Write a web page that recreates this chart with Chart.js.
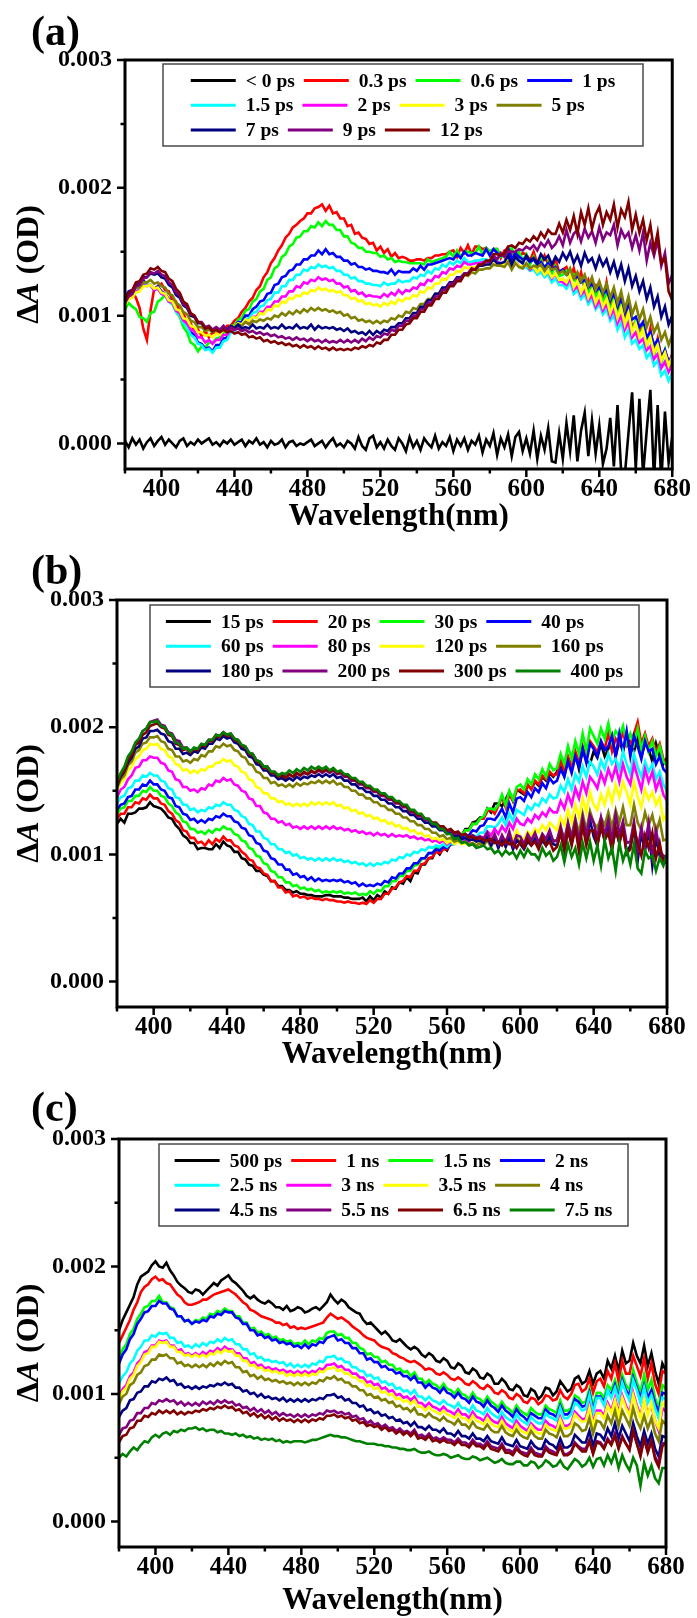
<!DOCTYPE html>
<html>
<head>
<meta charset="utf-8">
<script src="https://cdn.jsdelivr.net/npm/chart.js@4.4.1/dist/chart.umd.min.js"></script>
<style>
  html, body { margin: 0; padding: 0; background: #ffffff; }
  #figure { position: relative; width: 697px; height: 1618px; overflow: hidden; background: #ffffff; }
  #figure canvas { position: absolute; left: 0; }
</style>
</head>
<body>
<div id="figure">
  <canvas id="panelA" width="697" height="540" style="top:0px"></canvas>
  <canvas id="panelB" width="697" height="540" style="top:540px"></canvas>
  <canvas id="panelC" width="697" height="538" style="top:1080px"></canvas>
</div>
<script>
// ---- data -------------------------------------------------------------
// Probe wavelength grid (nm), 2 nm steps
const WAVELENGTH_NM = [
  380,382,384,386,388,390,392,394,396,398,
  400,402,404,406,408,410,412,414,416,418,
  420,422,424,426,428,430,432,434,436,438,
  440,442,444,446,448,450,452,454,456,458,
  460,462,464,466,468,470,472,474,476,478,
  480,482,484,486,488,490,492,494,496,498,
  500,502,504,506,508,510,512,514,516,518,
  520,522,524,526,528,530,532,534,536,538,
  540,542,544,546,548,550,552,554,556,558,
  560,562,564,566,568,570,572,574,576,578,
  580,582,584,586,588,590,592,594,596,598,
  600,602,604,606,608,610,612,614,616,618,
  620,622,624,626,628,630,632,634,636,638,
  640,642,644,646,648,650,652,654,656,658,
  660,662,664,666,668,670,672,674,676,678,
  680
];

// Transient absorption values are stored in units of 1e-5 OD
const DA_UNIT = 1e-5;

// Axis ticks
const X_TICKS = [380,400,420,440,460,480,500,520,540,560,580,600,620,640,660,680];
const Y_TICKS = [0, 0.0005, 0.001, 0.0015, 0.002, 0.0025, 0.003];

// Trace colours (same order in every panel)
const TRACE_COLORS = ['#000000','#ff0000','#00ff00','#0000ff','#00ffff','#ff00ff',
                      '#ffff00','#808000','#000080','#800080','#800000','#008000'];

// ---- panel (a): early delays ----
const LABELS_A = ['< 0 ps','0.3 ps','0.6 ps','1 ps','1.5 ps','2 ps','3 ps','5 ps','7 ps','9 ps','12 ps'];

const A_NEG = [
  2,-3,4,-1,3,-4,1,4,-2,2,
  5,-1,3,0,-3,2,4,-2,1,-1,
  3,0,2,4,-1,1,-2,2,0,3,
  -1,1,3,-2,2,0,4,-1,1,-3,
  2,-1,0,3,-3,1,2,-2,0,-1,
  1,3,-2,0,2,-3,1,4,-2,0,
  -3,2,0,-4,5,-2,-5,4,6,-3,
  1,-4,3,-2,-5,4,0,-6,5,-3,
  2,-5,4,0,-3,6,-4,1,-2,5,
  -6,3,-2,4,-5,2,-1,6,-7,3,
  -2,8,-9,4,-3,7,-10,5,9,-6,
  4,-8,10,-12,6,-5,12,-14,-15,8,
  -12,16,-6,22,-14,10,24,-10,18,-8,
  14,-16,-4,20,-18,30,-22,-25,8,40,
  -20,35,-25,10,42,-28,30,-30,25,-15,
  5
];
const A_0P3 = [
  112,116,119,114,106,90,81,104,121,123,
  125,120,119,112,111,103,102,94,94,88,
  89,84,88,83,87,86,89,89,92,92,
  96,98,103,106,111,114,120,123,130,134,
  141,145,151,155,161,164,169,171,174,176,
  180,180,184,185,187,182,186,180,181,176,
  176,170,171,164,165,161,160,156,157,151,
  154,149,152,146,149,145,146,145,143,143,
  144,144,143,145,145,147,147,148,148,150,
  151,146,153,149,155,148,154,154,152,153,
  150,152,152,145,151,152,148,150,146,149,
  148,143,150,141,139,147,140,137,144,134,
  136,138,130,137,126,134,121,128,120,124,
  123,110,126,109,116,104,114,94,108,90,
  96,85,94,76,90,70,82,67,73,62,
  70
];
const A_0P6 = [
  105,110,107,105,99,98,95,102,103,111,
  113,116,111,109,103,99,91,87,79,77,
  72,76,75,79,79,82,83,87,87,92,
  92,97,98,104,105,111,113,119,121,128,
  130,137,139,146,148,154,156,161,162,166,
  166,170,169,173,170,174,171,171,167,167,
  162,162,157,156,153,153,150,150,149,149,
  146,147,144,145,142,143,142,142,141,141,
  141,141,140,144,142,143,144,145,146,150,
  146,151,146,150,150,149,149,154,148,153,
  150,152,152,146,147,149,153,145,150,143,
  148,140,146,138,144,135,142,133,139,131,
  132,135,129,132,122,129,125,117,127,114,
  122,109,119,103,114,99,109,93,103,87,
  97,83,91,77,85,69,79,63,73,59,
  66
];
const A_1 = [
  114,119,120,123,123,128,124,124,120,123,
  119,117,113,111,105,103,96,93,87,85,
  79,78,74,75,72,77,77,82,83,89,
  90,95,95,100,100,105,107,111,112,117,
  118,124,125,130,131,135,136,140,140,144,
  144,147,147,151,148,152,148,149,146,146,
  143,143,140,141,138,138,136,137,135,135,
  134,134,133,136,132,135,134,134,134,137,
  135,139,136,140,140,141,142,143,144,145,
  144,148,145,150,147,147,149,148,147,152,
  147,152,149,147,148,153,144,149,146,144,
  145,142,144,140,142,138,141,136,138,134,
  136,132,133,129,131,126,128,122,125,119,
  122,117,120,112,117,107,113,102,108,97,
  99,91,95,83,87,77,81,67,73,64,
  68
];
const A_1P5 = [
  112,117,117,122,121,125,124,124,121,121,
  117,116,111,109,103,100,94,91,85,83,
  78,77,73,74,71,75,75,80,81,87,
  88,93,93,97,98,102,103,107,108,112,
  113,118,118,123,123,128,128,132,132,136,
  135,138,137,140,138,139,137,138,135,135,
  132,132,129,130,127,127,125,125,124,124,
  123,126,124,125,125,128,126,127,127,130,
  129,132,131,135,133,137,136,140,138,142,
  140,143,141,145,142,142,143,143,144,144,
  142,146,143,141,141,146,138,143,139,137,
  138,135,136,132,134,130,132,126,129,124,
  124,121,126,117,120,113,117,109,113,105,
  109,101,105,96,100,89,95,83,89,78,
  81,74,77,67,71,61,65,53,57,49,
  55
];
const A_2 = [
  110,114,115,119,120,124,123,124,120,121,
  117,116,111,110,104,102,96,94,89,88,
  83,83,79,81,78,81,81,85,85,89,
  89,92,92,96,95,99,99,103,103,107,
  107,111,111,115,115,119,119,123,122,126,
  125,128,127,130,128,129,127,128,125,125,
  122,123,119,120,117,118,115,116,115,115,
  114,117,115,118,116,120,117,120,119,122,
  121,125,124,128,127,131,130,134,133,137,
  136,139,138,142,140,140,141,141,142,142,
  141,145,142,141,140,145,137,142,139,138,
  140,136,138,134,137,132,135,129,133,127,
  126,124,129,120,123,116,120,112,116,107,
  112,104,109,99,105,94,100,89,95,83,
  87,79,82,73,76,66,70,59,64,56,
  62
];
const A_3 = [
  108,113,114,118,119,123,123,124,121,122,
  118,117,112,111,105,104,98,97,92,91,
  87,87,84,85,83,86,85,89,88,92,
  91,94,93,97,96,99,98,102,101,105,
  104,108,107,111,110,114,113,116,115,118,
  117,120,119,122,120,121,119,120,118,119,
  116,116,113,114,111,112,109,110,108,109,
  107,110,108,111,109,113,111,114,113,116,
  115,119,118,122,121,125,125,129,128,132,
  132,135,134,138,137,138,138,139,139,140,
  140,143,141,140,140,144,138,142,139,138,
  140,137,138,134,137,132,135,130,133,128,
  129,126,132,122,127,118,124,114,120,110,
  117,107,113,102,110,98,106,93,102,87,
  94,83,89,77,83,71,77,65,71,61,
  68
];
const A_5 = [
  110,115,117,122,122,126,126,128,125,126,
  123,122,117,116,110,108,103,101,96,95,
  91,91,88,89,87,89,88,90,89,92,
  91,93,92,95,93,96,95,97,96,98,
  97,100,99,102,100,103,101,104,102,105,
  103,106,104,106,104,105,103,104,102,103,
  100,101,98,99,96,97,95,96,94,96,
  94,96,95,98,97,100,99,103,102,106,
  105,109,109,113,113,117,117,121,121,125,
  125,129,128,132,131,134,133,136,136,137,
  137,140,139,139,138,142,136,141,138,137,
  141,137,139,138,140,135,139,136,137,133,
  135,132,137,129,134,127,132,123,130,120,
  127,118,125,114,122,110,119,105,115,101,
  109,97,105,91,99,87,93,81,87,77,
  85
];
const A_7 = [
  112,117,119,124,125,130,130,133,132,133,
  130,129,124,122,116,114,108,106,100,99,
  94,94,90,91,88,90,88,91,89,92,
  90,93,90,91,90,93,90,91,90,93,
  90,91,90,93,90,91,90,93,90,91,
  90,93,89,92,90,91,90,91,89,90,
  88,90,87,88,86,87,85,88,85,88,
  86,89,88,91,91,94,94,98,98,102,
  102,107,107,112,112,117,117,122,122,126,
  126,130,130,133,133,136,136,139,139,140,
  140,144,141,141,142,147,140,146,143,141,
  147,143,145,141,148,144,147,140,146,142,
  149,144,150,141,147,139,149,142,145,137,
  146,139,144,134,142,131,140,127,137,123,
  131,119,127,113,122,107,115,99,107,93,
  100
];
const A_9 = [
  110,115,117,123,124,129,130,134,133,135,
  132,131,126,124,118,116,109,107,101,100,
  95,95,91,92,89,91,89,92,88,91,
  89,90,88,89,87,88,86,87,85,86,
  84,85,83,84,82,83,81,83,81,82,
  80,82,80,81,79,81,79,80,79,81,
  79,81,79,81,79,82,80,83,81,84,
  83,86,85,89,88,92,92,96,96,100,
  100,105,105,110,110,115,115,120,120,125,
  125,129,129,133,133,137,136,140,140,143,
  142,147,144,149,146,151,150,150,152,151,
  154,152,155,151,157,154,159,153,156,162,
  155,167,157,164,167,158,168,161,166,157,
  169,159,165,163,171,155,167,161,165,153,
  163,151,165,143,157,147,159,139,149,125,
  132
];
const A_12 = [
  112,118,120,126,127,132,133,137,136,138,
  135,134,129,127,121,118,111,109,102,100,
  95,94,90,91,88,89,87,89,87,88,
  86,87,85,86,83,84,82,83,80,81,
  79,80,78,79,77,78,76,77,75,77,
  75,76,74,76,74,75,73,75,73,74,
  73,74,73,75,74,76,75,77,76,79,
  78,81,81,85,85,89,89,93,94,98,
  98,103,103,108,108,113,113,118,118,123,
  123,127,127,132,132,136,136,140,140,143,
  143,148,148,147,149,154,155,153,157,156,
  160,158,162,159,165,161,167,164,164,172,
  165,175,167,178,164,181,171,184,168,179,
  185,171,181,175,187,169,183,177,189,167,
  179,165,175,159,171,151,165,141,145,119,
  112
];
const SERIES_A = [A_NEG, A_0P3, A_0P6, A_1, A_1P5, A_2, A_3, A_5, A_7, A_9, A_12];

// ---- panel (b): intermediate delays ----
const LABELS_B = ['15 ps','20 ps','30 ps','40 ps','60 ps','80 ps','120 ps','160 ps','180 ps','200 ps','300 ps','400 ps'];

const B_15 = [
  124,128,125,132,132,133,136,136,137,141,
  138,137,136,133,129,128,123,120,115,113,
  109,109,104,105,105,104,104,108,105,110,
  107,106,102,102,97,96,92,91,87,87,
  84,83,79,79,75,75,72,72,70,71,
  69,69,68,68,67,67,67,68,68,67,
  67,67,66,66,65,65,65,66,63,67,
  64,68,66,71,69,74,73,78,77,82,
  79,86,85,92,92,97,97,103,100,105,
  103,109,109,114,115,120,120,125,126,129,
  129,136,133,140,140,138,143,149,142,151,
  149,147,154,152,157,154,161,158,164,161,
  165,173,162,175,169,179,167,182,174,171,
  181,176,187,177,183,193,177,189,181,195,
  185,181,191,177,187,183,173,187,177,171,
  176
];
const B_20 = [
  128,132,132,137,137,141,140,144,143,147,
  144,144,140,139,134,132,127,125,119,118,
  113,113,109,110,107,111,108,112,110,114,
  111,111,107,106,102,100,96,95,90,89,
  85,84,79,79,74,74,70,71,67,68,
  66,67,65,66,65,65,64,65,64,64,
  63,63,62,63,62,62,61,62,61,64,
  62,65,65,69,69,73,74,78,79,83,
  82,87,87,92,93,97,98,102,101,104,
  104,108,109,114,114,119,119,124,124,128,
  128,134,135,132,138,145,137,147,142,150,
  151,148,155,151,158,155,162,159,165,162,
  163,173,166,177,169,181,172,185,175,189,
  185,180,189,183,195,181,191,187,196,185,
  187,195,204,187,195,185,191,181,187,175,
  170
];
const B_30 = [
  132,136,137,142,142,146,146,150,149,153,
  150,150,146,145,140,138,133,131,126,125,
  120,120,117,118,116,119,117,120,119,122,
  120,120,116,115,111,110,105,104,99,98,
  93,92,87,86,82,82,78,78,75,76,
  73,74,72,73,71,72,70,71,70,71,
  70,71,69,70,69,70,68,69,68,71,
  69,72,71,75,75,79,79,83,83,87,
  87,91,92,96,97,101,101,105,104,107,
  106,110,110,115,115,119,119,124,124,128,
  130,136,136,135,139,147,139,150,143,153,
  155,151,159,155,163,159,167,161,171,166,
  168,179,171,185,175,189,179,195,181,199,
  193,187,199,191,203,189,197,193,201,187,
  195,187,199,183,193,181,189,177,185,173,
  170
];
const B_40 = [
  135,139,140,145,146,151,151,155,154,158,
  155,155,151,150,145,144,138,137,132,131,
  127,128,125,127,125,128,127,130,129,132,
  130,130,126,125,121,120,115,114,109,108,
  103,102,97,96,92,92,88,88,84,85,
  82,83,80,82,79,81,79,80,79,80,
  79,80,78,79,77,78,75,77,75,76,
  75,77,76,79,78,82,81,85,85,89,
  89,93,93,97,97,101,101,104,103,106,
  105,108,108,112,112,115,115,119,118,122,
  123,128,128,127,131,136,129,140,133,144,
  145,142,149,145,152,149,156,152,160,156,
  158,167,161,173,164,177,169,183,172,187,
  183,177,189,182,185,193,177,195,181,197,
  177,193,185,175,189,181,183,171,177,167,
  164
];
const B_60 = [
  140,145,146,152,153,158,158,162,161,164,
  162,162,158,157,152,151,145,144,139,139,
  135,136,133,135,134,137,136,139,138,141,
  139,139,135,134,130,129,124,123,118,118,
  113,112,108,108,104,104,101,102,99,100,
  97,98,96,97,95,97,95,97,95,97,
  95,96,94,95,93,94,92,93,91,93,
  91,93,92,94,93,96,95,98,97,100,
  99,102,101,104,103,106,105,107,106,108,
  106,109,108,111,110,113,112,115,114,117,
  117,122,122,121,124,129,123,132,126,135,
  133,131,138,135,140,138,144,141,147,144,
  145,154,149,159,151,163,157,169,161,173,
  169,163,174,167,179,171,175,167,181,171,
  163,179,169,161,173,165,171,159,165,155,
  150
];
const B_80 = [
  145,151,153,159,162,168,169,174,174,177,
  176,176,172,171,166,165,159,158,153,153,
  150,151,149,152,151,155,154,158,157,160,
  158,159,155,154,150,149,144,143,138,138,
  133,132,128,128,125,126,123,124,121,122,
  120,122,120,122,120,122,120,122,120,122,
  120,121,119,120,118,119,117,118,116,117,
  115,117,115,116,114,116,114,115,114,115,
  113,114,112,113,111,112,110,111,109,111,
  108,110,109,111,109,112,110,113,111,114,
  113,118,115,120,116,122,118,125,120,128,
  124,123,128,125,131,128,133,130,136,133,
  133,142,136,147,139,152,144,157,148,161,
  157,152,164,156,167,159,169,157,171,161,
  155,171,161,151,167,157,165,151,159,147,
  142
];
const B_120 = [
  150,156,159,166,169,175,177,182,183,187,
  186,187,183,182,177,176,171,170,166,167,
  164,166,164,167,166,169,169,172,172,175,
  173,174,170,169,165,164,159,158,153,152,
  148,148,144,144,141,142,139,140,138,140,
  138,140,138,141,139,141,139,141,139,141,
  138,139,136,137,134,135,132,133,130,131,
  128,129,126,127,124,125,122,123,120,121,
  118,119,116,117,114,115,112,113,111,112,
  109,111,108,110,108,109,107,109,107,109,
  107,112,107,113,108,115,109,117,111,119,
  113,112,118,115,120,117,123,119,125,122,
  119,129,123,135,125,139,129,144,133,149,
  139,135,147,139,151,141,155,145,157,149,
  139,157,145,137,151,143,149,139,145,127,
  132
];
const B_160 = [
  152,159,162,170,173,180,182,187,188,192,
  192,193,189,188,183,182,177,177,173,174,
  172,175,174,178,177,181,181,185,184,187,
  185,186,182,181,177,176,171,170,165,164,
  160,160,156,157,154,155,153,155,153,156,
  154,156,155,157,156,158,156,158,156,158,
  155,156,153,153,150,150,147,147,144,144,
  141,141,138,138,135,135,132,132,129,129,
  126,126,123,123,120,120,117,117,114,115,
  112,113,110,111,109,110,108,109,107,109,
  107,111,106,112,107,113,106,112,105,113,
  109,107,112,109,113,110,114,109,115,111,
  111,120,113,124,115,128,117,132,119,134,
  125,121,129,123,133,121,135,125,137,123,
  123,139,125,119,133,123,131,117,127,111,
  112
];
const B_180 = [
  154,161,165,172,176,183,185,191,192,197,
  197,198,195,194,189,188,183,183,179,180,
  178,181,180,184,183,187,187,191,190,193,
  191,192,188,187,183,182,177,176,171,170,
  166,166,162,162,159,160,158,160,158,161,
  159,161,160,162,161,163,161,163,161,163,
  160,161,158,158,155,155,152,152,149,149,
  146,146,143,143,140,140,137,137,134,134,
  131,131,128,128,125,125,122,122,119,119,
  116,117,114,115,112,113,111,112,110,111,
  109,114,107,113,105,112,106,114,104,111,
  108,104,110,107,112,105,111,107,114,108,
  107,117,104,119,109,122,107,124,110,127,
  114,107,122,111,125,105,119,109,123,101,
  107,121,95,117,103,119,91,113,99,97,
  96
];
const B_200 = [
  156,163,167,175,179,187,190,197,199,204,
  205,206,202,201,196,195,190,189,184,184,
  181,183,182,186,186,190,190,194,193,196,
  194,195,191,190,186,185,180,179,174,173,
  169,169,165,165,162,163,161,163,161,164,
  162,164,163,165,164,166,164,166,164,166,
  163,164,161,161,158,158,155,155,152,152,
  149,149,146,146,143,143,140,140,137,137,
  133,133,130,130,127,127,124,124,121,121,
  118,119,116,117,115,116,114,115,113,114,
  112,117,110,116,108,115,109,118,107,115,
  114,108,116,111,117,109,116,112,119,110,
  111,122,109,125,112,127,110,129,114,131,
  125,113,129,115,127,111,131,116,126,109,
  110,126,103,121,107,125,99,119,103,99,
  98
];
const B_300 = [
  155,162,166,174,178,186,188,194,196,201,
  202,203,200,199,194,193,187,186,182,183,
  180,183,182,186,185,189,189,193,192,195,
  193,194,190,189,185,184,179,178,173,172,
  168,168,164,164,161,162,160,163,161,164,
  162,165,163,166,164,167,165,167,165,167,
  164,165,162,162,159,159,156,156,153,153,
  150,150,147,147,144,144,141,141,138,138,
  134,134,131,131,128,128,125,125,122,122,
  119,120,117,118,115,116,113,114,112,113,
  111,111,112,109,110,107,111,108,109,105,
  110,105,112,107,110,104,114,107,110,103,
  106,117,103,119,107,121,102,123,107,119,
  119,107,123,111,117,103,121,109,119,101,
  104,121,109,99,115,105,117,97,109,93,
  94
];
const B_400 = [
  157,164,169,177,181,188,191,197,199,204,
  204,205,201,200,195,194,188,187,183,184,
  181,184,183,187,186,190,190,194,193,196,
  194,195,191,190,186,185,180,179,174,173,
  169,169,165,165,162,164,163,166,164,167,
  165,168,166,169,167,169,167,169,166,168,
  165,166,163,163,160,160,157,157,154,154,
  151,151,148,148,145,145,142,142,139,139,
  135,135,132,132,128,128,124,124,120,120,
  116,116,112,113,109,110,107,108,105,106,
  107,104,105,101,103,99,103,100,102,97,
  103,98,104,100,100,96,105,99,102,95,
  98,107,94,108,98,105,92,109,97,110,
  95,107,91,111,97,105,87,109,95,104,
  92,108,89,85,103,97,99,87,97,91,
  100
];
const SERIES_B = [B_15, B_20, B_30, B_40, B_60, B_80, B_120, B_160, B_180, B_200, B_300, B_400];

// ---- panel (c): nanosecond delays ----
const LABELS_C = ['500 ps','1 ns','1.5 ns','2 ns','2.5 ns','3 ns','3.5 ns','4 ns','4.5 ns','5.5 ns','6.5 ns','7.5 ns'];

const C_500P = [
  150,158,164,170,176,186,192,194,196,201,
  204,200,199,203,197,193,188,185,183,180,
  179,182,181,178,181,184,187,185,189,191,
  193,189,187,184,181,177,175,177,174,172,
  171,173,171,168,168,166,169,165,166,168,
  167,164,165,167,168,166,169,172,178,174,
  171,174,172,168,166,164,163,158,155,156,
  153,150,147,149,146,142,141,143,140,137,
  135,137,135,131,129,132,130,126,125,128,
  126,121,120,124,122,117,116,120,118,113,
  112,116,114,108,108,112,109,104,103,107,
  105,99,98,104,102,96,99,105,104,99,
  102,110,106,102,104,112,114,108,110,118,
  108,116,118,112,126,120,130,118,134,124,
  126,140,130,124,138,122,132,118,108,124,
  118
];
const C_1N = [
  140,146,152,158,166,172,180,184,186,190,
  192,189,190,187,186,182,178,176,172,170,
  170,171,172,174,174,176,178,179,180,181,
  182,180,178,175,172,170,166,165,163,161,
  160,159,158,156,156,154,155,152,153,151,
  152,151,152,153,154,155,156,160,163,161,
  159,160,158,156,153,151,149,146,144,143,
  142,139,137,136,135,132,131,129,128,126,
  125,126,124,122,119,120,119,116,115,117,
  115,112,111,113,111,108,107,110,108,105,
  104,107,105,101,100,103,101,97,96,100,
  98,94,93,97,96,92,94,99,98,95,
  96,103,98,96,100,107,108,102,104,112,
  101,110,112,106,118,112,124,110,126,116,
  116,130,122,114,128,112,124,108,100,118,
  116
];
const C_1P5N = [
  128,135,139,147,151,159,163,168,169,173,
  173,177,172,172,168,167,161,161,157,158,
  155,158,157,160,159,163,162,165,164,167,
  165,165,161,161,156,156,151,152,148,149,
  146,147,144,145,142,143,141,142,139,140,
  139,142,139,142,141,144,143,148,149,149,
  146,147,144,144,140,140,136,135,131,132,
  129,129,125,126,123,123,119,120,117,118,
  114,117,112,112,108,111,108,107,104,108,
  104,103,100,104,100,99,96,101,97,96,
  93,98,94,92,89,94,90,88,85,91,
  87,85,83,89,86,84,84,91,88,87,
  85,95,87,87,89,99,97,93,94,104,
  90,101,101,97,107,103,111,101,115,107,
  103,119,109,101,115,103,111,97,89,107,
  104
];
const C_2N = [
  124,131,135,143,147,155,159,164,165,169,
  169,173,171,171,167,166,161,161,157,158,
  155,157,156,158,157,161,160,163,162,165,
  164,164,160,159,155,155,150,150,146,147,
  144,145,142,143,140,141,139,140,137,138,
  136,139,136,139,138,141,140,144,145,146,
  142,143,140,140,136,136,132,132,127,128,
  125,125,121,122,119,119,116,117,114,114,
  111,114,109,109,105,108,105,104,101,105,
  101,100,97,101,97,96,93,98,94,93,
  90,95,91,89,86,91,87,85,82,88,
  84,82,79,85,83,81,81,88,85,84,
  82,91,84,84,87,96,94,90,91,101,
  87,98,98,94,103,99,107,97,111,103,
  99,113,105,97,107,97,103,93,85,101,
  100
];
const C_2P5N = [
  108,114,117,124,127,134,137,142,142,146,
  145,148,147,148,144,144,140,141,137,138,
  136,139,137,140,138,141,140,143,141,144,
  142,143,139,139,135,135,131,132,128,129,
  126,127,125,126,124,125,122,124,121,123,
  121,123,121,124,123,126,125,129,129,130,
  127,128,125,125,121,121,118,118,114,115,
  112,113,109,110,107,108,104,105,102,103,
  100,103,98,98,95,98,95,94,92,95,
  92,91,89,93,89,89,86,91,87,86,
  84,89,85,83,81,86,82,80,78,84,
  80,78,76,82,79,77,77,85,82,81,
  79,89,81,81,84,93,91,87,88,99,
  85,97,97,91,103,97,105,95,109,101,
  95,111,103,93,105,93,99,89,81,97,
  96
];
const C_3N = [
  98,104,107,114,117,124,127,133,134,138,
  138,142,141,142,138,138,134,135,131,132,
  130,132,130,133,131,134,133,136,134,137,
  135,135,132,132,128,128,124,125,122,123,
  120,121,119,120,118,119,117,118,116,118,
  116,118,116,118,117,120,119,123,123,124,
  121,122,119,119,116,116,113,113,109,110,
  107,108,104,105,102,103,99,100,97,98,
  95,98,93,93,90,93,90,89,87,90,
  87,86,84,88,84,84,81,86,82,81,
  79,84,80,78,77,82,77,75,73,79,
  75,73,71,77,74,72,72,79,76,75,
  73,82,75,75,77,86,83,80,81,91,
  77,87,87,83,93,87,97,85,99,91,
  85,101,91,83,95,85,91,79,71,89,
  86
];
const C_3P5N = [
  96,102,105,112,115,122,125,131,132,137,
  137,141,140,141,137,137,133,133,130,131,
  129,131,129,131,129,132,131,134,132,135,
  133,134,130,130,126,126,122,123,120,121,
  118,119,117,118,116,117,114,116,114,116,
  114,116,114,116,115,118,117,120,120,121,
  118,119,116,116,113,113,110,110,106,107,
  104,105,101,102,99,100,96,97,94,95,
  92,95,90,90,87,90,87,86,84,87,
  84,83,81,85,81,81,78,83,79,78,
  76,81,77,75,74,79,74,72,70,76,
  72,70,69,75,71,69,69,76,73,72,
  71,80,73,73,75,84,81,78,79,89,
  75,85,85,81,91,85,95,83,97,89,
  83,99,89,81,95,83,93,79,73,93,
  90
];
const C_4N = [
  92,98,100,107,109,115,117,122,123,127,
  127,131,130,131,128,128,124,125,122,123,
  121,123,121,123,121,124,122,125,123,126,
  124,125,121,121,117,118,114,115,112,114,
  111,112,110,111,109,110,108,109,107,109,
  107,109,107,109,108,111,110,113,112,114,
  111,112,109,109,106,106,103,103,99,100,
  97,98,95,96,93,94,90,91,88,89,
  86,89,84,84,82,85,82,81,79,82,
  79,78,76,80,76,76,73,78,74,73,
  72,76,72,70,70,75,70,68,67,72,
  68,66,65,71,67,65,65,72,69,68,
  66,74,67,67,69,77,75,71,72,81,
  69,79,78,73,83,77,87,75,87,81,
  75,89,79,73,83,73,81,69,63,79,
  76
];
const C_4P5N = [
  82,87,89,95,96,101,102,106,106,110,
  109,112,111,113,110,111,107,108,105,106,
  104,106,104,106,105,107,106,108,107,109,
  107,108,105,105,102,103,100,101,98,100,
  97,98,96,97,95,97,94,96,94,96,
  94,96,94,96,95,97,96,99,99,100,
  97,98,95,96,93,93,90,91,87,88,
  85,86,83,84,81,82,79,80,77,78,
  75,78,74,74,72,75,72,72,70,73,
  69,69,67,71,67,67,65,69,65,65,
  63,67,63,62,61,66,61,60,59,64,
  59,58,57,63,59,57,57,64,61,60,
  57,65,58,58,60,68,65,62,62,71,
  59,69,68,64,73,67,77,65,75,69,
  63,77,67,59,71,61,69,57,51,67,
  66
];
const C_5P5N = [
  68,73,74,79,80,85,85,89,89,93,
  92,95,94,96,94,95,92,94,91,93,
  91,93,91,94,92,94,92,95,93,95,
  93,94,91,92,89,90,87,89,86,88,
  85,87,84,86,83,85,83,84,82,84,
  82,84,82,84,83,85,84,87,86,87,
  85,86,84,85,82,83,80,81,77,79,
  76,77,74,76,73,74,71,73,70,71,
  69,72,67,68,66,69,65,66,64,66,
  64,64,62,65,62,62,60,64,61,61,
  59,63,59,58,57,61,56,56,54,59,
  55,54,53,58,54,53,52,59,56,55,
  53,60,53,53,55,62,59,57,57,64,
  54,63,62,58,65,61,69,58,67,61,
  57,71,61,53,65,55,63,51,45,61,
  62
];
const C_6P5N = [
  62,67,68,73,74,79,79,83,82,85,
  84,87,85,87,85,87,84,86,84,86,
  85,87,86,88,87,89,88,90,89,91,
  89,90,87,88,85,86,83,85,82,84,
  81,83,80,82,79,81,79,80,78,80,
  78,80,78,80,79,81,80,83,83,84,
  82,83,81,82,79,80,77,78,75,76,
  74,75,72,74,71,72,69,71,68,70,
  67,70,65,66,64,67,63,64,62,64,
  62,62,60,63,60,60,58,62,59,59,
  57,61,57,56,55,59,54,54,52,57,
  54,52,51,56,52,51,51,57,54,53,
  52,59,52,52,54,61,58,55,55,63,
  53,62,61,57,64,60,67,57,66,61,
  56,71,61,51,65,54,63,49,43,59,
  62
];
const C_7P5N = [
  50,53,51,55,58,56,60,63,62,66,
  68,66,69,70,68,71,70,72,71,73,
  73,74,72,73,71,72,72,70,71,69,
  69,68,69,67,68,66,67,65,66,64,
  65,64,65,63,64,62,63,62,63,63,
  63,62,63,64,64,65,66,67,68,67,
  67,66,66,65,64,63,63,62,61,61,
  61,60,60,59,59,58,58,57,57,56,
  56,57,55,54,54,55,53,52,52,53,
  52,50,51,52,50,49,49,51,50,48,
  49,50,48,46,47,49,46,45,45,47,
  47,44,44,47,46,42,44,48,46,43,
  44,48,43,41,45,49,47,43,45,50,
  43,49,50,44,52,46,54,42,52,45,
  40,50,44,28,46,36,44,34,30,42,
  42
];
const SERIES_C = [C_500P, C_1N, C_1P5N, C_2N, C_2P5N, C_3N, C_3P5N, C_4N, C_4P5N, C_5P5N, C_6P5N, C_7P5N];

// Text
const X_TITLE = 'Wavelength(nm)';
const Y_TITLE_PARTS = [['\u0394', false], ['A', true], [' (OD)', false]];

// ---- drawing ----------------------------------------------------------
const SERIF = '"Liberation Serif", "Times New Roman", Times, serif';
const boldFont = (size, italic) => (italic ? 'italic ' : '') + 'bold ' + size + 'px ' + SERIF;
const isMajorX = v => v % 40 === 0;
const isMajorY = v => Math.abs(v * 1000 - Math.round(v * 1000)) < 1e-6;

// Frame, outward tick marks, in-plot legend, panel tag and axis titles
const decorPlugin = {
  id: 'decor',
  afterDraw(chart, _args, opts) {
    const ctx = chart.ctx;
    const { left, top, right, bottom } = chart.chartArea;
    const xs = chart.scales.x, ys = chart.scales.y;
    ctx.save();

    // tick marks
    ctx.strokeStyle = '#000';
    ctx.lineWidth = 2.5;
    ctx.beginPath();
    X_TICKS.forEach(v => {
      const px = xs.getPixelForValue(v);
      ctx.moveTo(px, bottom);
      ctx.lineTo(px, bottom + (isMajorX(v) ? 8 : 4.5));
    });
    Y_TICKS.forEach(v => {
      const py = ys.getPixelForValue(v);
      ctx.moveTo(left, py);
      ctx.lineTo(left - (isMajorY(v) ? 8 : 4.5), py);
    });
    ctx.stroke();

    // frame
    ctx.lineWidth = 3;
    ctx.strokeRect(left, top, right - left, bottom - top);

    // legend box
    const lg = opts.legend;
    ctx.fillStyle = '#fff';
    ctx.fillRect(lg.x, lg.y, lg.w, lg.h);
    ctx.lineWidth = 1.5;
    ctx.strokeStyle = '#4a4a4a';
    ctx.strokeRect(lg.x, lg.y, lg.w, lg.h);
    ctx.font = boldFont(19.5);
    const ds = chart.data.datasets;
    const rows = [ds.slice(0, 4), ds.slice(4, 8), ds.slice(8, 12)];
    const rowWidth = row => row.reduce((s, d, i) =>
      s + 55 + ctx.measureText(d.label).width + (i < row.length - 1 ? 9 : 0), 0);
    const maxW = Math.max(...rows.map(rowWidth));
    const x0 = lg.x + (lg.w - maxW) / 2;
    rows.forEach((row, r) => {
      let cx = x0;
      const cy = lg.y + 16.5 + r * 24.8;
      row.forEach(d => {
        ctx.strokeStyle = d.borderColor;
        ctx.lineWidth = 3;
        ctx.beginPath();
        ctx.moveTo(cx, cy);
        ctx.lineTo(cx + 45, cy);
        ctx.stroke();
        ctx.fillStyle = '#000';
        ctx.textAlign = 'left';
        ctx.textBaseline = 'middle';
        ctx.fillText(d.label, cx + 55, cy + 1);
        cx += 55 + ctx.measureText(d.label).width + 9;
      });
    });

    // panel tag
    ctx.fillStyle = '#000';
    ctx.textBaseline = 'alphabetic';
    ctx.textAlign = 'left';
    ctx.font = boldFont(42);
    ctx.fillText(opts.tag, 31, opts.tagY);

    // x-axis title
    ctx.font = boldFont(31);
    ctx.textAlign = 'center';
    ctx.fillText(X_TITLE, (left + right) / 2, bottom + opts.xTitleGap);

    // y-axis title (italic A)
    ctx.translate(opts.yTitleX, (top + bottom) / 2);
    ctx.rotate(-Math.PI / 2);
    ctx.textAlign = 'left';
    const widths = Y_TITLE_PARTS.map(([t, it]) => { ctx.font = boldFont(32, it); return ctx.measureText(t).width; });
    let tx = -widths.reduce((a, b) => a + b, 0) / 2;
    Y_TITLE_PARTS.forEach(([t, it], i) => {
      ctx.font = boldFont(32, it);
      ctx.fillText(t, tx, 0);
      tx += widths[i];
    });
    ctx.restore();
  }
};

function makeDatasets(series, labels) {
  return series.map((vals, i) => ({
    label: labels[i],
    data: vals.map((v, k) => ({ x: WAVELENGTH_NM[k], y: v * DA_UNIT })),
    borderColor: TRACE_COLORS[i],
    backgroundColor: TRACE_COLORS[i],
    borderWidth: 2.6,
    pointRadius: 0,
    tension: 0,
    fill: false,
    order: series.length - i   // later delays drawn on top
  }));
}

function makePanel(canvasId, series, labels, geom) {
  const tickFont = size => ({ family: SERIF, size: size, weight: 'bold' });
  return new Chart(document.getElementById(canvasId), {
    type: 'line',
    data: { datasets: makeDatasets(series, labels) },
    options: {
      responsive: false,
      animation: false,
      devicePixelRatio: 1,
      layout: { padding: { top: geom.top, right: geom.right, bottom: 0, left: 0 } },
      scales: {
        x: {
          type: 'linear', min: 380, max: 680,
          grid: { display: false, drawTicks: false },
          border: { display: false },
          afterBuildTicks: s => { s.ticks = X_TICKS.map(v => ({ value: v })); },
          afterFit: s => { s.height = geom.xh; },
          ticks: {
            autoSkip: false, maxRotation: 0, minRotation: 0, padding: 6,
            color: '#000', font: tickFont(25),
            callback: v => isMajorX(v) ? String(v) : ''
          }
        },
        y: {
          type: 'linear', min: -0.0002, max: 0.003,
          grid: { display: false, drawTicks: false },
          border: { display: false },
          afterBuildTicks: s => { s.ticks = Y_TICKS.map(v => ({ value: v })); },
          afterFit: s => { s.width = geom.yw; },
          ticks: {
            padding: 13, color: '#000', font: tickFont(24),
            callback: v => isMajorY(v) ? v.toFixed(3) : ''
          }
        }
      },
      plugins: {
        legend: { display: false },
        tooltip: { enabled: false },
        decor: geom.decor
      }
    },
    plugins: [decorPlugin]
  });
}

makePanel('panelA', SERIES_A, LABELS_A, {
  top: 60, right: 23, xh: 71, yw: 125,
  decor: { tag: '(a)', tagY: 45, xTitleGap: 56, yTitleX: 38,
           legend: { x: 163, y: 64, w: 480, h: 82 } }
});
makePanel('panelB', SERIES_B, LABELS_B, {
  top: 60, right: 30, xh: 73, yw: 117,
  decor: { tag: '(b)', tagY: 44, xTitleGap: 56, yTitleX: 38,
           legend: { x: 150, y: 65, w: 489, h: 82 } }
});
makePanel('panelC', SERIES_C, LABELS_C, {
  top: 59, right: 31, xh: 71, yw: 119,
  decor: { tag: '(c)', tagY: 41, xTitleGap: 62, yTitleX: 38,
           legend: { x: 159, y: 64, w: 469, h: 82 } }
});
</script>
</body>
</html>
